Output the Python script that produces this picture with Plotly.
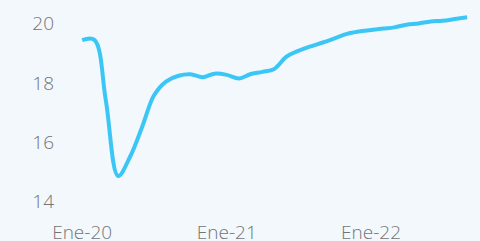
import plotly.graph_objects as go

months = [
    "2020-01-01", "2020-02-01", "2020-03-01", "2020-04-01", "2020-05-01", "2020-06-01",
    "2020-07-01", "2020-08-01", "2020-09-01", "2020-10-01", "2020-11-01", "2020-12-01",
    "2021-01-01", "2021-02-01", "2021-03-01", "2021-04-01", "2021-05-01", "2021-06-01",
    "2021-07-01", "2021-08-01", "2021-09-01", "2021-10-01", "2021-11-01", "2021-12-01",
    "2022-01-01", "2022-02-01", "2022-03-01", "2022-04-01", "2022-05-01", "2022-06-01",
    "2022-07-01", "2022-08-01", "2022-09-01",
]
values = [
    19.44, 19.45, 17.40, 14.86, 15.50, 16.52,
    17.58, 18.05, 18.24, 18.29, 18.19, 18.31,
    18.27, 18.15, 18.29, 18.37, 18.47, 18.88,
    19.08, 19.23, 19.36, 19.50, 19.65, 19.73,
    19.78, 19.83, 19.87, 19.96, 20.00, 20.07,
    20.09, 20.15, 20.21,
]
tick_vals = ["2020-01-01", "2021-01-01", "2022-01-01"]
tick_text = ["Ene-20", "Ene-21", "Ene-22"]
y_ticks = [14, 16, 18, 20]

bg = "#f3f8fc"
fig = go.Figure(
    go.Scatter(
        x=months, y=values, mode="lines",
        line=dict(color="#3cc6f5", width=4, shape="spline", smoothing=1),
        hoverinfo="skip",
    )
)
fig.update_layout(
    width=480, height=241,
    margin=dict(l=60, r=5, t=5, b=31),
    paper_bgcolor=bg, plot_bgcolor=bg,
    showlegend=False,
    font=dict(family="Open Sans", size=19, color="#747474", weight=300),
)
fig.update_xaxes(
    range=["2019-11-06", "2022-09-21"],
    tickvals=tick_vals, ticktext=tick_text,
    showgrid=False, zeroline=False, showline=False, ticks="",
    ticklabelstandoff=9, automargin=False,
)
fig.update_yaxes(
    range=[13.714, 20.624],
    tickvals=y_ticks,
    showgrid=False, zeroline=False, showline=False, ticks="",
    ticklabelstandoff=5, automargin=False,
)
fig.write_html(
    "out.html",
    config={"displayModeBar": False},
    post_script="document.body.style.margin='0';document.body.style.background='%s';" % bg,
)
